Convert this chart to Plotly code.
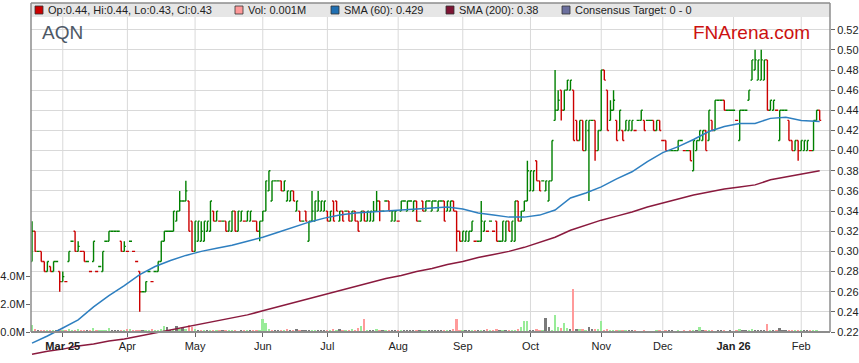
import plotly.graph_objects as go
import pandas as pd

# ---------------- data ----------------
dates = [d.strftime('%Y-%m-%d') for d in pd.bdate_range('2025-02-17', periods=257)]

opens = [
    .29, .32, .30, .30, .29, .28, .285, .28, .29, .28,
    .27, .27, .29, .31, .32, .30, .30, .30, .29, .28,
    .29, .28, .285, .28, .31, .31, .32, .32, .32, .31,
    .30, .30, .31, .30, .29, .28, .26, .26, .28, .27,
    .28, .28, .29, .31, .32, .32, .32, .33, .34, .35,
    .35, .35, .33, .30, .31, .31, .31, .32, .32, .34,
    .33, .33, .33, .33, .32, .32, .34, .32, .33, .33,
    .33, .33, .33, .33, .32, .33, .34, .36, .35, .37,
    .37, .37, .36, .35, .35, .36, .34, .34, .33, .34,
    .31, .33, .33, .34, .34, .34, .34, .33, .35, .35,
    .33, .34, .34, .34, .33, .34, .33, .33, .34, .33,
    .33, .33, .34, .35, .34, .35, .35, .33, .33, .33,
    .34, .35, .34, .35, .34, .35, .33, .35, .34, .35,
    .34, .35, .34, .35, .35, .34, .34, .35, .34, .32,
    .31, .31, .31, .32, .31, .31, .31, .32, .32, .33,
    .32, .33, .31, .31, .31, .33, .31, .31, .35, .33,
    .34, .35, .36, .36, .39, .37, .37, .36, .35, .37,
    .43, .44, .46, .44, .46, .46, .46, .43, .41, .43,
    .40, .42, .43, .43, .40, .42, .48, .46, .43, .44,
    .43, .42, .42, .42, .42, .42, .42, .43, .43, .43,
    .43, .43, .43, .42, .43, .41, .41, .40, .40, .40,
    .40, .41, .40, .40, .40, .38, .40, .41, .41, .42,
    .41, .43, .42, .45, .45, .45, .44, .44, .44, .43,
    .41, .44, .44, .45, .47, .48, .47, .47, .47, .49,
    .44, .44, .44, .41, .44, .44, .43, .41, .40, .41,
    .40, .40, .40, .40, .40, .43, .44,
]
highs = [
    .33, .32, .30, .30, .29, .29, .285, .29, .29, .28,
    .28, .27, .30, .31, .32, .31, .30, .30, .29, .28,
    .31, .28, .285, .30, .31, .32, .32, .32, .32, .31,
    .31, .30, .31, .30, .29, .28, .26, .27, .28, .27,
    .28, .29, .31, .32, .32, .32, .34, .34, .36, .35,
    .37, .35, .33, .33, .33, .33, .33, .33, .35, .34,
    .34, .33, .33, .33, .33, .34, .34, .34, .34, .33,
    .34, .34, .33, .33, .33, .34, .37, .38, .37, .37,
    .37, .37, .37, .36, .36, .36, .35, .34, .33, .34,
    .33, .36, .35, .36, .35, .35, .34, .34, .35, .35,
    .34, .34, .34, .34, .34, .34, .33, .34, .34, .34,
    .34, .35, .36, .35, .34, .35, .35, .34, .34, .33,
    .35, .35, .35, .35, .35, .35, .33, .35, .35, .35,
    .35, .35, .35, .35, .35, .35, .35, .35, .34, .32,
    .32, .32, .32, .33, .31, .31, .35, .33, .32, .33,
    .32, .33, .31, .33, .33, .33, .33, .35, .35, .34,
    .35, .39, .38, .38, .39, .37, .37, .37, .37, .41,
    .48, .46, .46, .46, .47, .47, .46, .43, .43, .43,
    .43, .43, .43, .43, .42, .48, .48, .46, .45, .46,
    .43, .44, .42, .43, .43, .43, .42, .43, .44, .43,
    .43, .43, .43, .43, .43, .41, .41, .40, .40, .40,
    .41, .41, .40, .40, .40, .41, .41, .42, .42, .42,
    .44, .43, .45, .45, .45, .45, .44, .44, .44, .43,
    .44, .44, .44, .46, .49, .50, .49, .50, .49, .49,
    .45, .45, .44, .44, .44, .44, .43, .41, .41, .41,
    .41, .41, .41, .40, .43, .44, .44,
]
lows = [
    .29, .30, .30, .29, .28, .28, .28, .28, .29, .26,
    .27, .27, .29, .31, .30, .30, .30, .29, .29, .28,
    .29, .28, .285, .28, .31, .31, .32, .32, .32, .30,
    .30, .30, .31, .30, .29, .24, .26, .26, .28, .27,
    .28, .28, .29, .31, .32, .32, .32, .33, .34, .35,
    .35, .32, .30, .30, .31, .31, .31, .32, .32, .33,
    .33, .33, .33, .32, .32, .32, .32, .32, .33, .33,
    .33, .33, .33, .32, .31, .33, .34, .36, .35, .37,
    .37, .36, .36, .35, .35, .35, .34, .33, .33, .33,
    .31, .33, .33, .34, .34, .34, .33, .33, .33, .34,
    .33, .33, .34, .33, .33, .33, .32, .33, .33, .33,
    .33, .33, .34, .33, .34, .35, .34, .33, .33, .33,
    .34, .35, .34, .35, .34, .33, .33, .34, .34, .35,
    .34, .35, .34, .35, .33, .34, .34, .34, .30, .31,
    .31, .31, .31, .32, .31, .31, .31, .32, .32, .33,
    .32, .31, .31, .31, .31, .32, .31, .31, .33, .33,
    .34, .35, .36, .36, .37, .36, .37, .36, .35, .37,
    .43, .44, .43, .44, .46, .46, .41, .41, .41, .40,
    .40, .35, .43, .39, .40, .42, .47, .42, .43, .44,
    .41, .42, .41, .42, .42, .42, .42, .43, .43, .42,
    .43, .43, .42, .42, .42, .41, .40, .40, .40, .40,
    .40, .41, .40, .40, .39, .38, .40, .41, .41, .40,
    .41, .42, .42, .45, .45, .44, .44, .44, .44, .43,
    .41, .44, .44, .45, .47, .48, .47, .47, .47, .44,
    .44, .44, .44, .41, .44, .44, .41, .40, .40, .39,
    .40, .40, .40, .40, .40, .43, .43,
]
closes = [
    .32, .30, .30, .29, .28, .29, .28, .29, .29, .27,
    .275, .27, .30, .31, .30, .305, .30, .29, .29, .28,
    .31, .28, .285, .30, .31, .32, .32, .32, .32, .30,
    .305, .30, .31, .30, .29, .26, .26, .27, .28, .27,
    .28, .29, .31, .32, .32, .32, .34, .34, .35, .35,
    .36, .32, .30, .33, .33, .32, .33, .33, .35, .33,
    .34, .33, .33, .32, .33, .34, .32, .34, .34, .33,
    .34, .34, .33, .32, .33, .34, .37, .38, .37, .37,
    .37, .36, .37, .36, .36, .35, .35, .33, .33, .33,
    .33, .34, .35, .35, .35, .35, .33, .34, .33, .34,
    .34, .33, .34, .33, .34, .33, .32, .34, .33, .34,
    .34, .34, .35, .34, .34, .35, .34, .34, .34, .33,
    .35, .35, .35, .35, .35, .33, .33, .34, .35, .35,
    .35, .35, .35, .35, .33, .35, .35, .34, .32, .31,
    .32, .32, .32, .33, .31, .31, .33, .33, .32, .33,
    .32, .31, .31, .33, .33, .32, .33, .35, .33, .34,
    .35, .38, .38, .38, .37, .36, .37, .37, .37, .41,
    .44, .45, .44, .46, .47, .47, .41, .41, .43, .40,
    .43, .43, .43, .40, .42, .48, .47, .42, .44, .45,
    .41, .44, .41, .43, .43, .43, .42, .43, .44, .42,
    .43, .43, .42, .43, .42, .41, .40, .40, .40, .40,
    .41, .41, .40, .40, .39, .41, .41, .42, .42, .40,
    .44, .42, .45, .45, .45, .44, .44, .44, .44, .43,
    .44, .44, .44, .46, .49, .49, .49, .49, .49, .44,
    .45, .45, .44, .44, .44, .44, .41, .40, .41, .40,
    .41, .41, .41, .40, .43, .44, .43,
]
volumes_m = [
    .5, .18, .15, .12, .1, .1, .08, .15, .1, .2,
    .15, .1, .2, .1, .08, .2, .1, .08, .12, .1,
    .28, .1, .08, .15, .1, .28, .1, .08, .1, .12,
    .1, .2, .25, .1, .12, .15, .1, .12, .15, .2,
    .12, .1, .2, .45, .35, .15, .12, .45, .2, .3,
    .25, .5, .35, .2, .1, .12, .1, .15, .12, .1,
    .1, .08, .1, .12, .1, .08, .1, .06, .1, .08,
    .1, .08, .12, .1, .15, .93, .62, .2, .1, .12,
    .15, .12, .1, .25, .1, .08, .2, .15, .12, .1,
    .15, .12, .1, .12, .08, .1, .12, .15, .2, .1,
    .25, .1, .08, .1, .2, .12, .3, .4, .93, .15,
    .1, .12, .25, .1, .08, .1, .12, .1, .08, .12,
    .1, .08, .1, .12, .1, .08, .1, .12, .1, .08,
    .1, .12, .1, .15, .08, .1, .15, .2, .93, .1,
    .08, .1, .12, .1, .08, .1, .12, .1, .25, .15,
    .1, .2, .12, .1, .08, .15, .12, .1, .2, .35,
    .8, .8, .15, .1, .2, .1, .08, 1.0, .35, .1,
    1.21, .35, .3, .64, .3, .25, 3.07, .2, .25, .2,
    .15, .35, .25, .2, .25, .79, .15, .2, .1, .12,
    .08, .1, .12, .15, .1, .08, .1, .06, .05, .08,
    .06, .05, .06, .08, .1, .05, .12, .08, .1, .06,
    .1, .06, .08, .05, .1, .1, .08, .38, .1, .15,
    .12, .1, .05, .15, .1, .08, .06, .1, .05, .08,
    .25, .15, .1, .12, .2, .1, .08, .1, .15, .57,
    .15, .1, .08, .29, .1, .08, .12, .15, .1, .12,
    .15, .1, .08, .12, .1, .1, .001,
]

sma_dates = dates[::5] + [dates[-1]]
sma60 = [
    .209, .216, .224, .232, .245, .256, .266, .277, .285, .291,
    .296, .300, .303, .306, .310, .314, .319, .324, .329, .333,
    .336, .338, .339, .340, .341, .342, .343, .344, .342, .338,
    .336, .334, .334, .336, .341, .353, .358, .364, .372, .379,
    .389, .398, .404, .411, .419, .424, .427, .427, .432, .433,
    .430, .429, .429,
]
sma200 = [
    .198, .201, .203, .206, .208, .211, .213, .216, .219, .222,
    .225, .228, .231, .234, .237, .241, .245, .249, .253, .257,
    .261, .265, .269, .273, .276, .280, .283, .287, .290, .294,
    .297, .300, .304, .309, .314, .321, .326, .331, .335, .339,
    .344, .348, .352, .356, .359, .362, .364, .366, .371, .374,
    .377, .380, .380,
]

month_ticks = ['2025-03-03', '2025-04-01', '2025-05-01', '2025-06-02', '2025-07-01',
               '2025-08-01', '2025-09-01', '2025-10-01', '2025-11-03', '2025-12-01',
               '2026-01-01', '2026-02-02']
month_labels = ['<b>Mar 25</b>', 'Apr', 'May', 'Jun', 'Jul', 'Aug', 'Sep', 'Oct',
                'Nov', 'Dec', '<b>Jan 26</b>', 'Feb']
price_ticks = [0.22, 0.24, 0.26, 0.28, 0.30, 0.32, 0.34, 0.36, 0.38, 0.40,
               0.42, 0.44, 0.46, 0.48, 0.50, 0.52]
vol_ticks = [0, 2, 4]
vol_labels = ['0.0M', '2.0M', '4.0M']

legend_items = [
    ('Op:0.44, Hi:0.44, Lo:0.43, Cl:0.43', '#cc0000'),
    ('Vol: 0.001M', '#ff9999'),
    ('SMA (60): 0.429', '#1f6fb2'),
    ('SMA (200): 0.38', '#7d1534'),
    ('Consensus Target: 0 - 0', '#6b6f9e'),
]

# ---------------- geometry / styling ----------------
W, H = 859, 363
ML, MR, MT, MB = 31, 29, 3, 0
PW = W - ML - MR
PH = H - MT - MB
AXIS_PX = 332          # pixel row of the x axis
PX_PER_UNIT = 1007.7   # price axis scale
PX_PER_M = 14.0        # volume axis scale
price_lo = 0.22 - (H - AXIS_PX) / PX_PER_UNIT
price_hi = 0.22 + (AXIS_PX - MT) / PX_PER_UNIT
band_bottom_price = 0.22 + (AXIS_PX - 17) / PX_PER_UNIT
vol_lo = -(H - AXIS_PX) / PX_PER_M
vol_hi = (AXIS_PX - MT) / PX_PER_M


def px_x(p):
    return (p - ML) / PW


def px_y(p):
    return (H - MB - p) / PH


GREEN = '#008000'
RED = '#cc0000'

# direction of each bar
dirs = []
prev = None
for o, c in zip(opens, closes):
    if c > o:
        d = 1
    elif c < o:
        d = -1
    else:
        d = 1 if (prev is None or c >= prev) else -1
    dirs.append(d)
    prev = c

vol_colors = []
prev = None
for c in closes:
    if prev is None or c > prev:
        vol_colors.append('#98ec98')
    elif c < prev:
        vol_colors.append('#ff9a9a')
    else:
        vol_colors.append('#7a7a7a')
    prev = c

fig = go.Figure()

fig.add_trace(go.Bar(x=dates, y=volumes_m, marker=dict(color=vol_colors, line=dict(width=0)),
                     width=0.6, yaxis='y', xaxis='x', hoverinfo='skip'))

for sign, col in ((1, GREEN), (-1, RED)):
    idx = [i for i, d in enumerate(dirs) if d == sign]
    fig.add_trace(go.Ohlc(
        x=[dates[i] for i in idx],
        open=[opens[i] for i in idx], high=[highs[i] for i in idx],
        low=[lows[i] for i in idx], close=[closes[i] for i in idx],
        increasing=dict(line=dict(color=col, width=1.4)),
        decreasing=dict(line=dict(color=col, width=1.4)),
        tickwidth=0.5, yaxis='y2', xaxis='x', hoverinfo='skip'))

fig.add_trace(go.Scatter(x=sma_dates, y=sma200, mode='lines',
                         line=dict(color='#8a1a3e', width=1.5), yaxis='y2', hoverinfo='skip'))
fig.add_trace(go.Scatter(x=sma_dates, y=sma60, mode='lines',
                         line=dict(color='#2e7fc0', width=1.5), yaxis='y2', hoverinfo='skip'))

shapes = []
# header band
shapes.append(dict(type='rect', xref='paper', yref='paper', x0=0, x1=1, y0=px_y(17), y1=1,
                   fillcolor='#e6e6e6', line=dict(width=0), layer='below'))
# vertical grid lines
for m in month_ticks:
    shapes.append(dict(type='line', xref='x', yref='y2', x0=m, x1=m, y0=0.22, y1=band_bottom_price,
                       line=dict(color='#d9d9d9', width=1), layer='below'))
# frame
frame_col = '#8c8c8c'
shapes.append(dict(type='line', xref='paper', yref='paper', x0=0, x1=0, y0=px_y(AXIS_PX), y1=1,
                   line=dict(color=frame_col, width=1.5), layer='above'))
shapes.append(dict(type='line', xref='paper', yref='paper', x0=1, x1=1, y0=px_y(AXIS_PX), y1=1,
                   line=dict(color=frame_col, width=1.5), layer='above'))
shapes.append(dict(type='line', xref='paper', yref='paper', x0=0, x1=1, y0=1, y1=1,
                   line=dict(color=frame_col, width=1.5), layer='above'))

annotations = []
legend_text_x = [47, 247, 343, 458, 574]
for (txt, col), tx in zip(legend_items, legend_text_x):
    shapes.append(dict(type='rect', xref='paper', yref='paper',
                       x0=px_x(tx - 12), x1=px_x(tx - 4), y0=px_y(14), y1=px_y(6),
                       fillcolor=col, line=dict(color='#333333', width=0.8), layer='above'))
    annotations.append(dict(text=txt, xref='paper', yref='paper', x=px_x(tx - 1), y=px_y(10),
                            xanchor='left', yanchor='middle', showarrow=False,
                            font=dict(size=11, color='#222222')))

annotations.append(dict(text='AQN', xref='paper', yref='paper', x=px_x(40), y=px_y(32),
                        xanchor='left', yanchor='middle', showarrow=False,
                        font=dict(size=19, color='#4d5866')))
annotations.append(dict(text='FNArena.com', xref='paper', yref='paper', x=px_x(691), y=px_y(32),
                        xanchor='left', yanchor='middle', showarrow=False,
                        font=dict(size=19, color='#cc1111')))

fig.update_layout(
    width=W, height=H,
    margin=dict(l=ML, r=MR, t=MT, b=MB, pad=0),
    paper_bgcolor='white', plot_bgcolor='white',
    showlegend=False,
    font=dict(family='Liberation Sans, Arial, sans-serif', size=11, color='#222222'),
    xaxis=dict(type='category', categoryorder='array', categoryarray=dates,
               range=[-0.33, 259.35], anchor='free', position=px_y(AXIS_PX),
               tickmode='array', tickvals=month_ticks, ticktext=month_labels,
               ticks='outside', ticklen=4, tickcolor='#666666',
               showline=True, linecolor='#8c8c8c', linewidth=1.5,
               showgrid=False, zeroline=False,
               rangeslider=dict(visible=False), fixedrange=True,
               tickfont=dict(size=11, color='#222222')),
    yaxis=dict(range=[vol_lo, vol_hi], side='left', anchor='x',
               tickmode='array', tickvals=vol_ticks, ticktext=vol_labels,
               ticks='outside', ticklen=4, tickcolor='#666666', ticklabelstandoff=-1,
               showgrid=False, zeroline=False, showline=False, fixedrange=True,
               tickfont=dict(size=11, color='#222222')),
    yaxis2=dict(range=[price_lo, price_hi], side='right', overlaying='y', anchor='x',
                tickmode='array', tickvals=price_ticks,
                ticktext=[f'{v:.2f}' for v in price_ticks],
                ticks='outside', ticklen=4, tickcolor='#666666',
                showgrid=True, gridcolor='#d9d9d9', gridwidth=1,
                zeroline=False, showline=False, fixedrange=True,
                tickfont=dict(size=11, color='#222222')),
    shapes=shapes,
    annotations=annotations,
    bargap=0,
)

fig.write_html('out.html', config={'displayModeBar': False},
               post_script="document.body.style.margin='0px';document.body.style.padding='0px';")
